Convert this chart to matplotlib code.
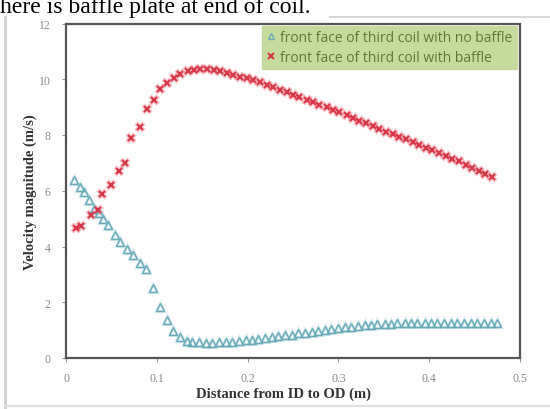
import matplotlib
matplotlib.use("Agg")
import matplotlib.pyplot as plt
from matplotlib.lines import Line2D

# ---- data ----
red_x = [0.011, 0.017, 0.027, 0.035, 0.040, 0.050, 0.058, 0.065, 0.072, 0.081,
         0.089, 0.097, 0.104, 0.111,
         0.119, 0.126, 0.134, 0.141, 0.148, 0.155, 0.163, 0.170, 0.177, 0.184,
         0.192, 0.199, 0.206, 0.214, 0.221, 0.228, 0.236, 0.243, 0.250, 0.257,
         0.265, 0.272, 0.279, 0.287, 0.294, 0.301, 0.309, 0.316, 0.323, 0.330,
         0.338, 0.345, 0.352, 0.360, 0.367, 0.374, 0.382, 0.389, 0.396, 0.403,
         0.411, 0.418, 0.425, 0.433, 0.440, 0.447, 0.455, 0.462, 0.469]
red_y = [4.65, 4.72, 5.12, 5.30, 5.90, 6.20, 6.70, 7.00, 7.90, 8.30,
         8.95, 9.25, 9.65, 9.88,
         10.05, 10.18, 10.28, 10.33, 10.36, 10.36, 10.33, 10.29, 10.23, 10.16,
         10.08, 10.03, 9.97, 9.89, 9.80, 9.71, 9.62, 9.54, 9.45, 9.36,
         9.27, 9.18, 9.08, 8.99, 8.90, 8.81, 8.72, 8.62, 8.52, 8.42,
         8.32, 8.22, 8.12, 8.03, 7.93, 7.84, 7.74, 7.65, 7.55, 7.45,
         7.35, 7.25, 7.15, 7.05, 6.94, 6.83, 6.72, 6.61, 6.50]

cyan_x = [0.009, 0.015, 0.020, 0.025, 0.031, 0.036, 0.041, 0.046, 0.054, 0.059,
          0.067, 0.074, 0.081, 0.088, 0.096, 0.103, 0.111, 0.118, 0.125, 0.133,
          0.139, 0.147, 0.154, 0.161, 0.168, 0.176, 0.183, 0.190, 0.198, 0.205,
          0.212, 0.219, 0.227, 0.234, 0.241, 0.249, 0.256, 0.263, 0.271, 0.278,
          0.285, 0.292, 0.300, 0.307, 0.314, 0.322, 0.329, 0.336, 0.343, 0.351,
          0.358, 0.365, 0.373, 0.380, 0.387, 0.395, 0.402, 0.409, 0.416, 0.424,
          0.431, 0.438, 0.446, 0.453, 0.460, 0.468, 0.475]
cyan_y = [6.40, 6.15, 5.97, 5.67, 5.35, 5.20, 5.00, 4.77, 4.40, 4.17,
          3.90, 3.68, 3.40, 3.20, 2.50, 1.82, 1.35, 0.97, 0.75, 0.62,
          0.58, 0.56, 0.55, 0.55, 0.56, 0.57, 0.59, 0.61, 0.63, 0.66,
          0.69, 0.72, 0.75, 0.78, 0.81, 0.84, 0.88, 0.91, 0.95, 0.98,
          1.01, 1.04, 1.07, 1.10, 1.13, 1.15, 1.17, 1.19, 1.21, 1.22,
          1.23, 1.24, 1.25, 1.25, 1.26, 1.26, 1.26, 1.26, 1.26, 1.26,
          1.26, 1.26, 1.26, 1.26, 1.26, 1.26, 1.26]

x_ticks = [0, 0.1, 0.2, 0.3, 0.4, 0.5]
x_tick_labels = ["0", "0.1", "0.2", "0.3", "0.4", "0.5"]
y_ticks = [0, 2, 4, 6, 8, 10, 12]
y_tick_labels = ["0", "2", "4", "6", "8", "10", "12"]

label_no_baffle = "front face of third coil with no baffle"
label_baffle = "front face of third coil with baffle"

# ---- figure ----
fig = plt.figure(figsize=(5.5, 4.1), dpi=100)
fig.patch.set_facecolor("white")

W, H = 550.0, 410.0
left_px, right_px, top_px, bottom_px = 66, 520, 24.5, 359
ax = fig.add_axes([left_px / W, 1 - bottom_px / H,
                   (right_px - left_px) / W, (bottom_px - top_px) / H])

serif = ["Liberation Serif", "DejaVu Serif"]

# screenshot decorations
fig.text(0.0, 1 - 13 / H, "here is baffle plate at end of coil.",
         fontsize=17, family=serif, color="black", va="baseline", ha="left")
fig.add_artist(Line2D([5 / W, 5 / W], [0, 1 - 18 / H], transform=fig.transFigure,
                      color="#d0d0d0", lw=2))
fig.add_artist(Line2D([5 / W, 1], [1 - 407 / H, 1 - 407 / H], transform=fig.transFigure,
                      color="#e0e0e0", lw=1.5))
fig.add_artist(Line2D([330 / W, 1], [1 - 18 / H, 1 - 18 / H], transform=fig.transFigure,
                      color="#d8d8d8", lw=1.5))

# soft halos (blurred look of the reference)
ax.plot(cyan_x, cyan_y, linestyle="none", marker="^", markersize=5.5,
        markerfacecolor="none", markeredgecolor="#a8d8e0", markeredgewidth=2.2,
        alpha=0.5)
ax.plot(red_x, red_y, linestyle="none", marker="x", markersize=5.5,
        color="#f28a96", markeredgewidth=3.2, alpha=0.5)

ax.plot(cyan_x, cyan_y, linestyle="none", marker="^", markersize=5.5,
        markerfacecolor="none", markeredgecolor="#6aaab8", markeredgewidth=1.0,
        label=label_no_baffle)
ax.plot(red_x, red_y, linestyle="none", marker="x", markersize=4.8,
        color="#d83848", markeredgewidth=1.5, label=label_baffle)

ax.set_xlim(0, 0.5)
ax.set_ylim(0, 12)
ax.set_xticks(x_ticks)
ax.set_xticklabels(x_tick_labels)
ax.set_yticks(y_ticks)
ax.set_yticklabels(y_tick_labels)
for lab in ax.get_xticklabels() + ax.get_yticklabels():
    lab.set_family(serif)
    lab.set_fontsize(8.5)
    lab.set_color("#8a8a8a")
ax.tick_params(axis="both", direction="out", length=3, width=0.8, color="#999999")
ax.tick_params(axis="x", pad=7)
ax.tick_params(axis="y", pad=8)

for sp in ax.spines.values():
    sp.set_color("#555555")
    sp.set_linewidth(1.6)

ax.set_xlabel("Distance from ID to OD (m)", family=serif, fontweight="bold",
              fontsize=10.5, color="#333333", labelpad=2)
ax.xaxis.set_label_coords(0.48, -0.085)
ax.set_ylabel("Velocity magnitude (m/s)", family=serif, fontweight="bold",
              fontsize=10.5, color="#333333", labelpad=1)

leg = ax.legend(loc="upper right", bbox_to_anchor=(0.993, 0.993), frameon=True,
                fancybox=False, handlelength=0.6, handletextpad=0.4,
                borderpad=0.3, labelspacing=0.35, markerscale=0.8,
                borderaxespad=0.0,
                prop={"family": ["Open Sans", "DejaVu Sans"], "size": 10})
leg.get_frame().set_facecolor("#c6da9e")
leg.get_frame().set_edgecolor("#c6da9e")
leg.get_frame().set_alpha(1.0)
for t in leg.get_texts():
    t.set_color("#5c7a30")

fig.savefig("out.png", dpi=100)
